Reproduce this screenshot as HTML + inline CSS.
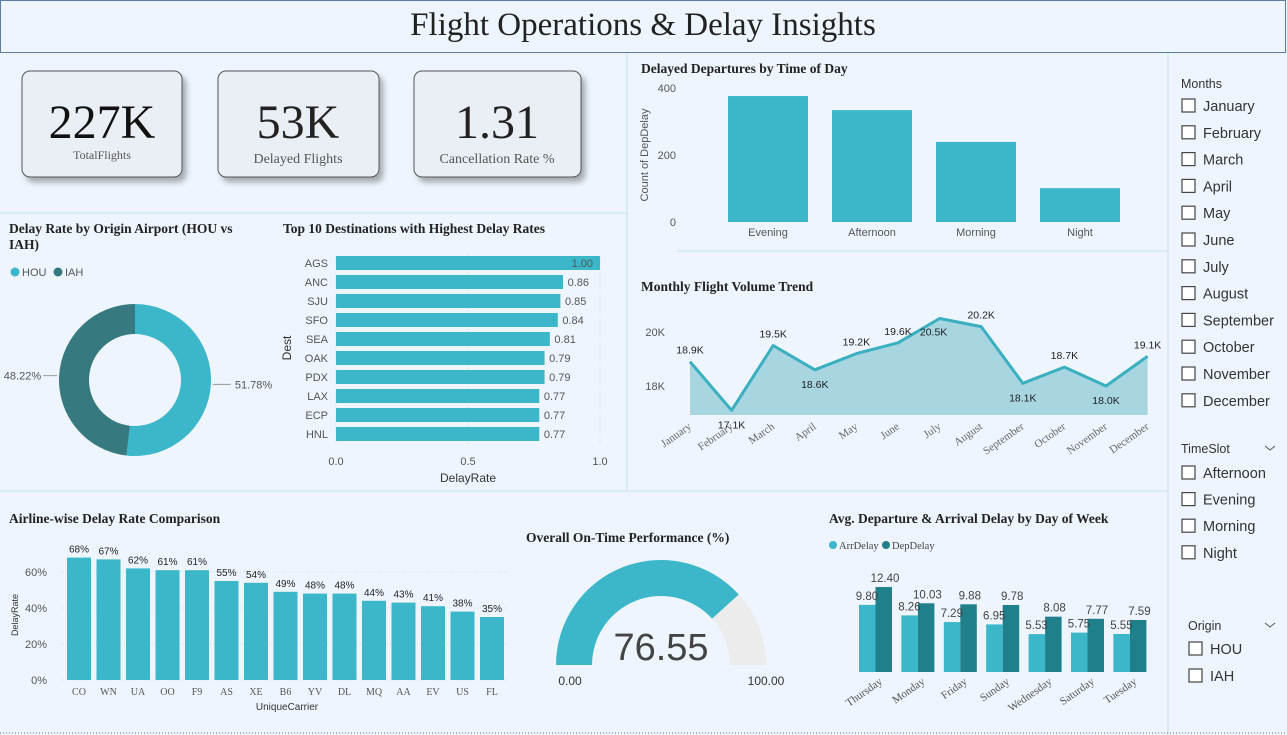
<!DOCTYPE html>
<html><head><meta charset="utf-8"><style>
html,body{margin:0;padding:0;background:#eef5fe;}
svg{display:block;font-family:"Liberation Sans",sans-serif;}
.ttl{font-family:"Liberation Serif",serif;font-weight:bold;font-size:13.5px;fill:#222;}
.tk{font-size:11px;fill:#555;}
.sl{font-size:14.5px;fill:#333;}
</style></head><body>
<svg id="s" width="1287" height="735" viewBox="0 0 1287 735" xmlns="http://www.w3.org/2000/svg">
<defs><filter id="sh" x="-20%" y="-20%" width="150%" height="150%"><feDropShadow dx="4" dy="5" stdDeviation="3" flood-color="#000" flood-opacity="0.3"/></filter></defs>
<rect x="0" y="0" width="1287" height="735" fill="#eef5fe"/>
<rect x="0.5" y="0.5" width="1285" height="52" fill="#eef5fe" stroke="#5b7ea8"/>
<text x="643" y="35" text-anchor="middle" font-family="Liberation Serif,serif" font-size="33" fill="#222">Flight Operations &amp; Delay Insights</text>
<g stroke="#cfe6f3" stroke-width="1.5" fill="none">
<line x1="1168" y1="53" x2="1168" y2="735"/><line x1="0" y1="213" x2="627" y2="213"/><line x1="627" y1="53" x2="627" y2="490"/>
<line x1="677" y1="251" x2="1168" y2="251"/><line x1="0" y1="491" x2="1168" y2="491"/></g>
<line x1="0" y1="733" x2="1287" y2="733" stroke="#777" stroke-dasharray="1,2"/>
<g><rect x="22" y="71" width="160" height="106" rx="8" fill="#eaeff6" stroke="#555" filter="url(#sh)"/><text x="102" y="138" text-anchor="middle" font-family="Liberation Serif,serif" font-size="48" fill="#111">227K</text><text x="102" y="159" text-anchor="middle" font-family="Liberation Serif,serif" font-size="12" fill="#555">TotalFlights</text></g>
<g><rect x="218" y="71" width="161" height="106" rx="8" fill="#eaeff6" stroke="#555" filter="url(#sh)"/><text x="298" y="138" text-anchor="middle" font-family="Liberation Serif,serif" font-size="48" fill="#222">53K</text><text x="298" y="163" text-anchor="middle" font-family="Liberation Serif,serif" font-size="14" fill="#555">Delayed Flights</text></g>
<g><rect x="414" y="71" width="167" height="106" rx="8" fill="#eaeff6" stroke="#555" filter="url(#sh)"/><text x="497" y="138" text-anchor="middle" font-family="Liberation Serif,serif" font-size="48" fill="#222">1.31</text><text x="497" y="163" text-anchor="middle" font-family="Liberation Serif,serif" font-size="14" fill="#555">Cancellation Rate %</text></g>
<text class="ttl" x="641" y="73">Delayed Departures by Time of Day</text>
<text class="tk" font-size="9" transform="translate(648,155) rotate(-90)" text-anchor="middle">Count of DepDelay</text>
<text class="ttl" x="641" y="291">Monthly Flight Volume Trend</text>
<text class="ttl" x="9" y="233">Delay Rate by Origin Airport (HOU vs</text>
<text class="ttl" x="9" y="249">IAH)</text>
<circle cx="15" cy="272" r="4.5" fill="#3bb7c9"/><text x="22" y="276" class="tk" font-size="12">HOU</text>
<circle cx="58" cy="272" r="4.5" fill="#36797f"/><text x="65" y="276" class="tk" font-size="12">IAH</text>
<text class="ttl" x="283" y="233">Top 10 Destinations with Highest Delay Rates</text>
<text x="291" y="348" transform="rotate(-90 291 348)" text-anchor="middle" font-size="12" fill="#333">Dest</text>
<text x="468" y="482" text-anchor="middle" font-size="12" fill="#333">DelayRate</text>
<text class="ttl" x="9" y="523">Airline-wise Delay Rate Comparison</text>
<text transform="translate(18,615) rotate(-90)" text-anchor="middle" font-size="9" fill="#333">DelayRate</text>
<text x="287" y="710" text-anchor="middle" font-size="10" fill="#333">UniqueCarrier</text>
<text class="ttl" x="526" y="542">Overall On-Time Performance (%)</text>
<text class="ttl" x="829" y="523">Avg. Departure &amp; Arrival Delay by Day of Week</text>
<circle cx="833" cy="545" r="4" fill="#3bb7c9"/><text x="839" y="549" font-family="Liberation Serif,serif" font-size="10.5" fill="#444">ArrDelay</text>
<circle cx="886" cy="545" r="4" fill="#1f7f8a"/><text x="892" y="549" font-family="Liberation Serif,serif" font-size="10.5" fill="#444">DepDelay</text>
<g id="charts"></g>
<g id="slicers"></g>
</svg>
<script>
const NS="http://www.w3.org/2000/svg";
const C=document.getElementById('charts');
function mk(t,a,txt,p){const e=document.createElementNS(NS,t);for(const k in a)e.setAttribute(k,a[k]);if(txt!=null)e.textContent=txt;(p||C).appendChild(e);return e;}
// data
const timeCats=["Evening","Afternoon","Morning","Night"];
const timeVals=[376,334,239,101];
const timeTicks=[0,200,400];
const months=["January","February","March","April","May","June","July","August","September","October","November","December"];
const monthVals=[18.9,17.1,19.5,18.6,19.2,19.6,20.5,20.2,18.1,18.7,18.0,19.1];
const monthTicks=[18,20];
const originCats=["HOU","IAH"];
const originVals=[51.78,48.22];
const destCats=["AGS","ANC","SJU","SFO","SEA","OAK","PDX","LAX","ECP","HNL"];
const destVals=[1.00,0.86,0.85,0.84,0.81,0.79,0.79,0.77,0.77,0.77];
const destTicks=[0,0.5,1.0];
const carriers=["CO","WN","UA","OO","F9","AS","XE","B6","YV","DL","MQ","AA","EV","US","FL"];
const carrierVals=[68,67,62,61,61,55,54,49,48,48,44,43,41,38,35];
const carrierTicks=[0,20,40,60];
const onTime=76.55;
const days=["Thursday","Monday","Friday","Sunday","Wednesday","Saturday","Tuesday"];
const arrVals=[9.80,8.26,7.29,6.95,5.53,5.75,5.55];
const depVals=[12.40,10.03,9.88,9.78,8.08,7.77,7.59];

// time of day
const ty=v=>222-v/400*134;
timeTicks.forEach(t=>{const e=mk('text',{x:676,y:ty(t)+4,'text-anchor':'end',class:'tk'},t);

});
timeCats.forEach((c,i)=>{const cx=768+i*104;
const r=mk('rect',{x:cx-40,y:ty(timeVals[i]),width:80,height:222-ty(timeVals[i]),fill:'#3bb7c9'});


const l=mk('text',{x:cx,y:236,'text-anchor':'middle',class:'tk'},c);

});

// monthly
const mx=i=>690+i*41.6, my=v=>386-(v-18)*27, base=415;
monthTicks.forEach(t=>{const e=mk('text',{x:665,y:my(t)+4,'text-anchor':'end',class:'tk',fill:'#666'},t+'K');

});
let pts=monthVals.map((v,i)=>mx(i)+','+my(v)).join(' ');
const ar=mk('polygon',{points:mx(0)+','+base+' '+pts+' '+mx(11)+','+base,fill:'#a7d5e0'});


const ln=mk('polyline',{points:pts,fill:'none',stroke:'#3aafc0','stroke-width':3,'stroke-linejoin':'round'});


const below=[1,3,8,10];
monthVals.forEach((v,i)=>{const up=!below.includes(i);
const t=mk('text',{x:mx(i)+(i==6?-6:0),y:i==6?my(v)+17:(up?my(v)-8:my(v)+18),'text-anchor':'middle','font-size':10.5,fill:'#222'},v.toFixed(1)+'K');


const l=mk('text',{x:mx(i)+2,y:428,'text-anchor':'end',transform:`rotate(-35 ${mx(i)+2} 428)`,'font-family':'Liberation Serif,serif','font-size':11,fill:'#666'},months[i]);

});

// donut
const dcx=135,dcy=380,R=76,r0=46;
function arc(a0,a1,Ro,Ri){const p=(a,r)=>[dcx+r*Math.sin(a),dcy-r*Math.cos(a)];const lg=(a1-a0)>Math.PI?1:0;
const [x1,y1]=p(a0,Ro),[x2,y2]=p(a1,Ro),[x3,y3]=p(a1,Ri),[x4,y4]=p(a0,Ri);
return `M${x1},${y1}A${Ro},${Ro} 0 ${lg} 1 ${x2},${y2}L${x3},${y3}A${Ri},${Ri} 0 ${lg} 0 ${x4},${y4}Z`;}
let a=0;const tot=originVals[0]+originVals[1];const dcol=['#3bb7c9','#36797f'];
originVals.forEach((v,i)=>{const a1=a+v/tot*2*Math.PI;
const s=mk('path',{d:arc(a,a1,R,r0),fill:dcol[i]});


const m=(a+a1)/2;const ex=dcx+(R+2)*Math.sin(m),ey=dcy-(R+2)*Math.cos(m);const right=Math.sin(m)>0;
mk('line',{x1:ex,y1:ey,x2:ex+(right?18:-14),y2:ey,stroke:'#999'});
const t=mk('text',{x:ex+(right?22:-16),y:ey+4,'text-anchor':right?'start':'end',class:'tk','font-size':10.5},v.toFixed(2)+'%');


a=a1;});

// top 10 destinations
const dx=v=>336+v*264;
destTicks.forEach(t=>{mk('line',{x1:dx(t),y1:254,x2:dx(t),y2:444,stroke:'#d8dde3','stroke-dasharray':'1,2'});
const e=mk('text',{x:dx(t),y:465,'text-anchor':'middle',class:'tk'},t.toFixed(1));

});
destCats.forEach((c,i)=>{const y=263+i*19;
const b=mk('rect',{x:336,y:y-7,width:dx(destVals[i])-336,height:14,fill:'#3bb7c9'});


const l=mk('text',{x:328,y:y+4,'text-anchor':'end',class:'tk'},c);


const v=mk('text',{x:dx(destVals[i])+(i==0?-7:26),y:y+4,'text-anchor':'end',class:'tk',fill:i==0?'#fff':'#555'},destVals[i].toFixed(2));

});

// airline
const ay=v=>680-v*1.8;
carrierTicks.forEach(t=>{mk('line',{x1:60,y1:ay(t),x2:510,y2:ay(t),stroke:'#d8dde3','stroke-dasharray':'1,2'});
const e=mk('text',{x:47,y:ay(t)+4,'text-anchor':'end',class:'tk','font-size':10},t+'%');

});
carriers.forEach((c,i)=>{const cx=79+i*29.5;
const b=mk('rect',{x:cx-12,y:ay(carrierVals[i]),width:24,height:680-ay(carrierVals[i]),fill:'#3bb7c9'});


const v=mk('text',{x:cx,y:ay(carrierVals[i])-5,'text-anchor':'middle','font-size':10,fill:'#222'},carrierVals[i]+'%');


const l=mk('text',{x:cx,y:695,'text-anchor':'middle','font-size':10,fill:'#555','font-family':'Liberation Serif,serif'},c);

});

// gauge
const gx=661,gy=665,GR=105,Gr=69;
function garc(f0,f1,col){const p=(f,r)=>[gx-r*Math.cos(f*Math.PI),gy-r*Math.sin(f*Math.PI)];
const [x1,y1]=p(f0,GR),[x2,y2]=p(f1,GR),[x3,y3]=p(f1,Gr),[x4,y4]=p(f0,Gr);
return mk('path',{d:`M${x1},${y1}A${GR},${GR} 0 0 1 ${x2},${y2}L${x3},${y3}A${Gr},${Gr} 0 0 0 ${x4},${y4}Z`,fill:col});}
const gb=garc(onTime/100,1,'#ececec');


const gv=garc(0,onTime/100,'#3bb7c9');


const gt=mk('text',{x:gx,y:660,'text-anchor':'middle','font-size':38,fill:'#444','font-family':'Liberation Sans Narrow,Liberation Sans,sans-serif'},onTime.toFixed(2));


mk('text',{x:570,y:685,'text-anchor':'middle','font-size':12,fill:'#333'},'0.00');
mk('text',{x:766,y:685,'text-anchor':'middle','font-size':12,fill:'#333'},'100.00');

// day of week
const wy=v=>672-v*6.85;
days.forEach((d,i)=>{const gx0=859+i*42.4;
const r1=mk('rect',{x:gx0,y:wy(arrVals[i]),width:16.5,height:672-wy(arrVals[i]),fill:'#3bb7c9'});


const r2=mk('rect',{x:gx0+16.5,y:wy(depVals[i]),width:16.5,height:672-wy(depVals[i]),fill:'#1f7f8a'});


const t1=mk('text',{x:gx0+8,y:wy(arrVals[i])-5,'text-anchor':'middle','font-size':11.5,fill:'#444'},arrVals[i].toFixed(2));


const t2=mk('text',{x:gx0+26,y:wy(depVals[i])-5,'text-anchor':'middle','font-size':11.5,fill:'#444'},depVals[i].toFixed(2));


const l=mk('text',{x:gx0+24,y:683,'text-anchor':'end',transform:`rotate(-35 ${gx0+24} 683)`,'font-family':'Liberation Serif,serif','font-size':11,fill:'#555'},d);

});

// slicers
const S=document.getElementById('slicers');
function hdr(x,y,t,chev){const e=mk('text',{x:x,y:y,'font-size':12.5,fill:'#333'},t,S);


if(chev){const c=mk('polyline',{points:`${1265},${y-7} ${1270},${y-3} ${1275},${y-7}`,fill:'none',stroke:'#555'},null,S);

}}
function item(x,y,t){const b=mk('rect',{x:x,y:y-11,width:13,height:13,fill:'#fff',stroke:'#444','stroke-width':1.2},null,S);


const l=mk('text',{x:x+21,y:y+1,class:'sl'},t,S);

}
hdr(1181,88,'Months',false);
months.forEach((m,i)=>item(1182,110+i*26.8,m));
hdr(1181,453,'TimeSlot',true);
["Afternoon","Evening","Morning","Night"].forEach((t,i)=>item(1182,477+i*26.6,t));
hdr(1188,630,'Origin',true);
["HOU","IAH"].forEach((t,i)=>item(1189,653+i*27,t));
</script>
</body></html>
